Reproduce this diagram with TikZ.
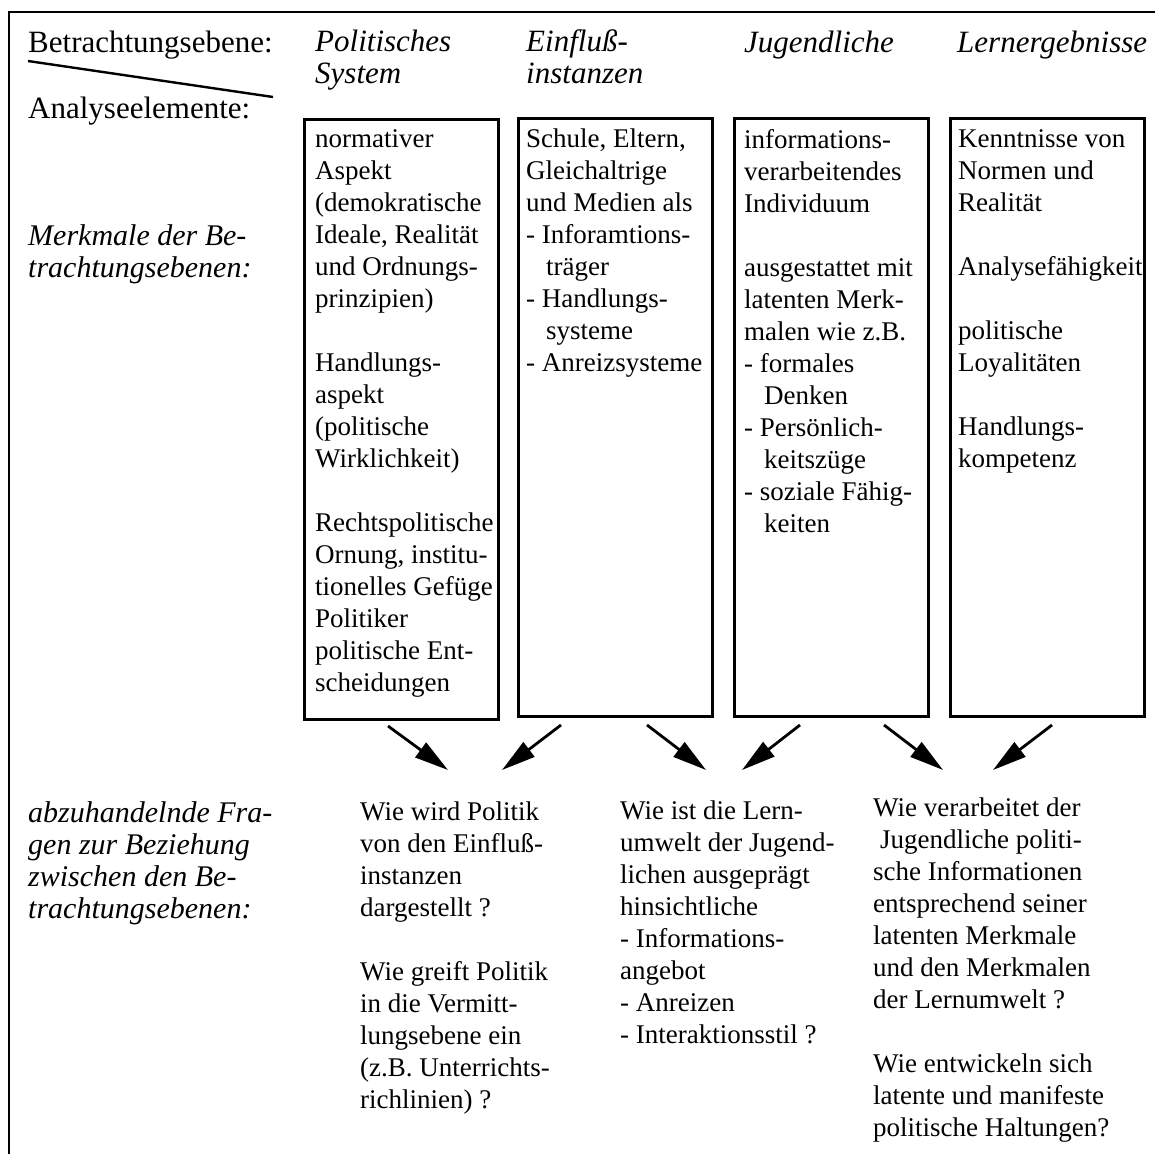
\documentclass[tikz,border=0pt]{standalone}
\usepackage{fontspec}
\setmainfont{Liberation Serif}
\usetikzlibrary{arrows.meta}

\begin{document}
\begin{tikzpicture}[
  x=1pt, y=-1pt,
  >={Triangle[length=34pt,width=18pt]},
  rahmen/.style={line width=2.6pt, line join=miter},
  kasten/.style={draw, line width=2.8pt, anchor=north west, minimum width=194pt, minimum height=598pt, inner sep=0pt},
  ebene/.style={anchor=north west, align=left, inner sep=0pt, font=\fontsize{31}{32}\selectfont},
  kopf/.style={ebene, font=\fontsize{31}{32}\selectfont\itshape},
  merkmal/.style={ebene, font=\fontsize{30}{32}\selectfont\itshape},
  inhalt/.style={ebene, font=\fontsize{27}{32}\selectfont},
  pfeil/.style={->, line width=2.8pt}
]
  \useasboundingbox (0,0) rectangle (1155,1154);
  \draw[rahmen] (9,1154) -- (9,12) -- (1155,12);
  \draw[line width=2.4pt] (28,61) -- (273,97);

  % Kopfzeile (Lage: Oberkante = Grundlinie - 22.4)
  \node[ebene] (betr) at (28,29.6) {\strut Betrachtungsebene:};
  \node[ebene] (anal) at (28,95.6) {\strut Analyseelemente:};
  \node[kopf] (pol) at (315,28.6) {\strut Politisches\\System};
  \node[kopf] (einfl) at (526,28.6) {\strut Einfluß-\\instanzen};
  \node[kopf] (jug) at (744,29.6) {\strut Jugendliche};
  \node[kopf] (lern) at (957,29.6) {\strut Lernergebnisse};

  % Merkmale
  \node[merkmal] (merk) at (28,222.6) {\strut Merkmale der Be-\\trachtungsebenen:};
  \node[kasten, minimum height=600pt] (polbox) at (303,118) {};
  \node[kasten] (einflbox) at (517,117) {};
  \node[kasten] (jugbox) at (733,117) {};
  \node[kasten] (lernbox) at (949,117) {};
  \node[inhalt] (poltxt) at (315,124.6) {\strut normativer\\Aspekt\\(demokratische\\Ideale, Realität\\und Ordnungs-\\prinzipien)\\[32pt]Handlungs-\\aspekt\\(politische\\Wirklichkeit)\\[32pt]Rechtspolitische\\Ornung, institu-\\tionelles Gefüge\\Politiker\\politische Ent-\\scheidungen};
  \node[inhalt] (einfltxt) at (526,124.6) {\strut Schule, Eltern,\\Gleichaltrige\\und Medien als\\- Inforamtions-\\\hspace*{20pt}träger\\- Handlungs-\\\hspace*{20pt}systeme\\- Anreizsysteme};
  \node[inhalt] (jugtxt) at (744,125.6) {\strut informations-\\verarbeitendes\\Individuum\\[32pt]ausgestattet mit\\latenten Merk-\\malen wie z.B.\\- formales\\\hspace*{20pt}Denken\\- Persönlich-\\\hspace*{20pt}keitszüge\\- soziale Fähig-\\\hspace*{20pt}keiten};
  \node[inhalt] (lerntxt) at (958,124.6) {\strut Kenntnisse von\\Normen und\\Realität\\[32pt]Analysefähigkeit\\[32pt]politische\\Loyalitäten\\[32pt]Handlungs-\\kompetenz};

  % Fragen
  \node[merkmal] (fragen) at (28,799.6) {\strut abzuhandelnde Fra-\\gen zur Beziehung\\zwischen den Be-\\trachtungsebenen:};
  \node[inhalt] (frage1) at (360,797.6) {\strut Wie wird Politik\\von den Einfluß-\\instanzen\\dargestellt ?\\[32pt]Wie greift Politik\\in die Vermitt-\\lungsebene ein\\(z.B. Unterrichts-\\richlinien) ?};
  \node[inhalt] (frage2) at (620,796.6) {\strut Wie ist die Lern-\\umwelt der Jugend-\\lichen ausgeprägt\\hinsichtliche\\- Informations-\\angebot\\- Anreizen\\- Interaktionsstil ?};
  \node[inhalt] (frage3) at (873,793.6) {\strut Wie verarbeitet der\\\hspace*{7pt}Jugendliche politi-\\sche Informationen\\entsprechend seiner\\latenten Merkmale\\und den Merkmalen\\der Lernumwelt ?\\[32pt]Wie entwickeln sich\\latente und manifeste\\politische Haltungen?};

  % Pfeile
  \coordinate (p1a) at (388,726); \coordinate (p1b) at (448,770);
  \coordinate (p2a) at (561,725); \coordinate (p2b) at (502,770);
  \coordinate (p3a) at (647,725); \coordinate (p3b) at (706,770);
  \coordinate (p4a) at (800,725); \coordinate (p4b) at (742,770);
  \coordinate (p5a) at (884,725); \coordinate (p5b) at (943,770);
  \coordinate (p6a) at (1052,725); \coordinate (p6b) at (993,770);
  \draw[pfeil] (p1a) -- (p1b);
  \draw[pfeil] (p2a) -- (p2b);
  \draw[pfeil] (p3a) -- (p3b);
  \draw[pfeil] (p4a) -- (p4b);
  \draw[pfeil] (p5a) -- (p5b);
  \draw[pfeil] (p6a) -- (p6b);
\end{tikzpicture}
\end{document}
